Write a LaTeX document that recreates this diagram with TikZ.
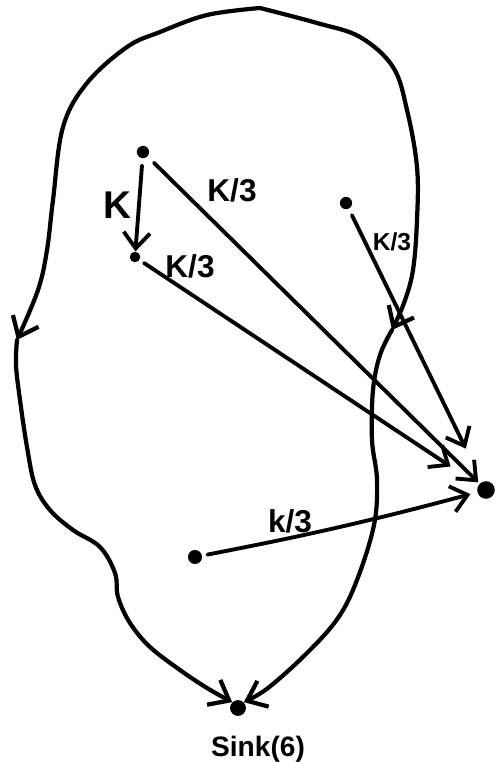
\documentclass[tikz,border=0pt]{standalone}
\usepackage{fontspec}
\setmainfont{Liberation Sans}
\usetikzlibrary{arrows.meta}

\begin{document}
\begin{tikzpicture}[x=0.02cm, y=-0.02cm, line cap=round, line join=round,
  every node/.style={font=\bfseries\fontsize{18}{20}\selectfont},
  dot/.style={circle, fill, inner sep=0pt, minimum size=7pt},
  flow/.style={line width=2.2pt, -{Straight Barb[length=9pt, width=15pt]}},
  rim/.style={line width=2.4pt, -{Straight Barb[length=10pt, width=16pt]}}]
\useasboundingbox (0,0) rectangle (495,762);

% ---------- vertices ----------
\node[dot] (A) at (143,152) {};
\node[dot, minimum size=6pt] (B) at (135,257) {};
\node[dot] (C) at (346,203) {};
\node[dot, minimum size=8pt] (D) at (195,557) {};
\node[dot, minimum size=10pt] (T) at (486,490) {};
\node[dot, minimum size=9pt] (S) at (238,708) {};
\node[anchor=north] (sinklab) at (258,730) {\fontsize{16}{18}\selectfont Sink(6)};

% ---------- the region: both sides run down to the sink ----------
\coordinate (top) at (260,8);
\coordinate (lmid) at (17,340);
\coordinate (rmid) at (392,330);
\draw[rim] plot[smooth, tension=0.6] coordinates {(top) (207,15) (160,32) (127,47) (87,83)
  (63,127) (53,200) (47,250) (38,290) (lmid)};
\draw[rim] plot[smooth, tension=0.6] coordinates {(lmid) (16,365) (20,400) (27,447) (35,485)
  (50,510) (73,530) (100,547) (115,573) (118,597) (130,623) (150,647) (180,670) (207,688) (S.north west)};
\draw[rim] plot[smooth, tension=0.6] coordinates {(top) (317,23) (360,37) (393,67) (407,110)
  (417,167) (417,220) (413,270) (404,303) (rmid)};
\draw[rim] plot[smooth, tension=0.6] coordinates {(rmid) (380,355) (373,390) (372,440) (377,480)
  (374,525) (357,580) (338,618) (307,653) (268,688) (S.north east)};

% ---------- edges ----------
\draw[flow, shorten <=4pt] (A) -- (B);
\draw[flow, shorten <=5pt, shorten >=1pt] (A) -- (T);
\draw[flow, shorten <=3pt, shorten >=19pt] (B) -- (T);
\draw[flow, shorten <=4pt, shorten >=21pt] (C) -- (T);
\draw[flow, shorten <=3pt, shorten >=4pt] (D) to[bend right=2] (T);

% ---------- weights ----------
\node[font=\bfseries\fontsize{22}{24}\selectfont] (wAB) at (117,205) {K};
\node (wAT) at (232,190) {K/3};
\node (wBT) at (190,266) {K/3};
\node[inner sep=0pt, font=\bfseries\fontsize{14}{16}\selectfont] (wCT) at (392,242) {K/3};
\node (wDT) at (290,521) {k/3};

\end{tikzpicture}
\end{document}
